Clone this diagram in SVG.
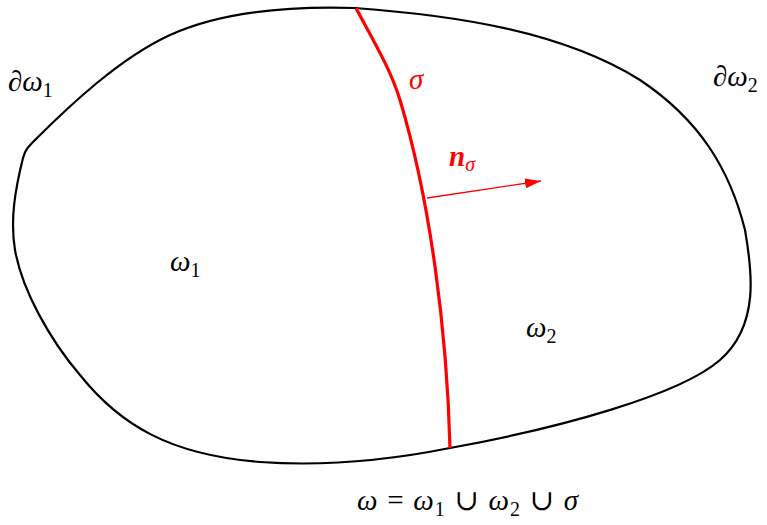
<svg xmlns="http://www.w3.org/2000/svg" width="767" height="525" viewBox="0 0 767 525">
<style>
text{font-family:"Liberation Serif","DejaVu Serif",serif;font-size:29px;fill:#000}
.i{font-style:italic}
.s{font-size:20px;font-style:normal}
.r{fill:#ff0000}
</style>
<defs>
<marker id="ah" markerWidth="16" markerHeight="10" refX="16" refY="5" orient="auto" markerUnits="userSpaceOnUse">
<path d="M0,0 L16,5 L0,10 Z" fill="#ff0000"/>
</marker>
</defs>
<g id="domain">
<path d="M355,8 C290,6 220,12 170,35 C120,58 70,105 35,140 C28,147 25,150 23,158 C15,190 10,220 15,250 C22,290 50,340 80,375 C120,425 170,455 260,462 C330,467 400,458 450,448 C560,428 680,395 720,360 C760,325 752,270 745,230 C730,170 700,120 640,80 C560,30 450,15 355,8 Z" fill="none" stroke="#000" stroke-width="2.2"/>
</g>
<g id="interface">
<path d="M356,8 C375,44 390,68 400,100 C430,200 447,330 450,448" fill="none" stroke="#ff0000" stroke-width="3.2"/>
</g>
<g id="connectors">
<line x1="427" y1="198" x2="541" y2="181" stroke="#ff0000" stroke-width="1.3" marker-end="url(#ah)"/>
</g>
<g id="labels">
<text x="8" y="91" class="i">∂ω<tspan class="s" dy="6">1</tspan></text>
<text x="713" y="86" class="i">∂ω<tspan class="s" dy="6">2</tspan></text>
<text x="409" y="89" class="i r">σ</text>
<text x="449" y="166" class="i r" font-weight="bold">n<tspan font-size="20" font-weight="normal" dy="5">σ</tspan></text>
<text x="170" y="271" class="i">ω<tspan class="s" dy="6">1</tspan></text>
<text x="526" y="337" class="i">ω<tspan class="s" dy="6">2</tspan></text>
<text x="357" y="510" class="i" textLength="221">ω <tspan font-style="normal">=</tspan> ω<tspan class="s" dy="6">1</tspan><tspan dy="-6" font-style="normal"> ∪ </tspan>ω<tspan class="s" dy="6">2</tspan><tspan dy="-6" font-style="normal"> ∪ </tspan>σ</text>
</g>
</svg>
